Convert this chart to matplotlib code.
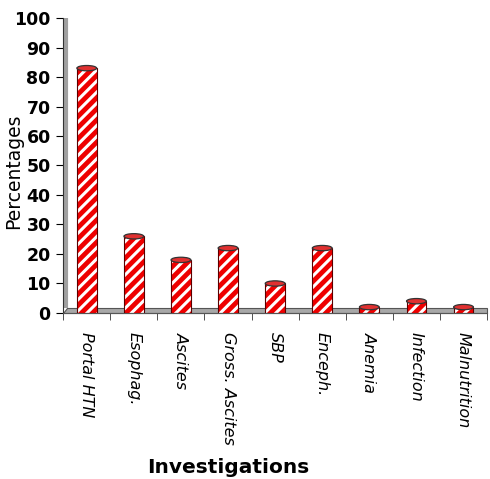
import matplotlib.pyplot as plt
import numpy as np
from matplotlib.patches import Ellipse, Polygon

# data
categories = ["Portal HTN", "Esophag.", "Ascites", "Gross. Ascites", "SBP",
              "Enceph.", "Anemia", "Infection", "Malnutrition"]
values = [83, 26, 18, 22, 10, 22, 2, 4, 2]

plt.rcParams['font.family'] = ['DejaVu Sans']
plt.rcParams['hatch.linewidth'] = 2.2

fig = plt.figure(figsize=(4.9, 4.79), dpi=100)
ax = fig.add_axes([0.129, 0.3466, 0.865, 0.6158])

x = np.arange(len(categories))
w = 0.42

# floor of the 3D box
floor = Polygon([[-0.5, 0], [8.5, 0], [8.5, 1.7], [-0.42, 1.7]],
                closed=True, facecolor='#a8a8a8', edgecolor='#555555', lw=0.8,
                zorder=1, clip_on=False)
ax.add_patch(floor)
# back wall shadow on the left
ax.plot([-0.45, -0.45], [1.7, 100.5], color='#a0a0a0', lw=3, zorder=1,
        solid_capstyle='butt')

# bars: red body with white diagonal stripes
ax.bar(x, values, width=w, color='#ee0000', hatch='///', edgecolor='white',
       linewidth=0, zorder=2)
ax.bar(x, values, width=w, fill=False, edgecolor='#5a0000', linewidth=0.8,
       zorder=3)
# cylinder tops
for xi, v in zip(x, values):
    ax.add_patch(Ellipse((xi, v), w, 1.8, facecolor='#e03030',
                         edgecolor='#333333', lw=0.9, zorder=4))

ax.set_xlim(-0.5, 8.5)
ax.set_ylim(0, 100)
ax.set_yticks(np.arange(0, 101, 10))
ax.set_yticklabels([str(t) for t in range(0, 101, 10)], fontsize=12.5,
                   fontweight='bold')
ax.set_xticks(np.arange(-0.5, 9, 1), minor=True)
ax.set_xticks(x)
ax.set_xticklabels(categories, rotation=270, style='italic', fontsize=11.5)
ax.tick_params(axis='x', which='major', length=0, pad=14)
ax.tick_params(axis='x', which='minor', length=5, color='#333333')
ax.tick_params(axis='y', length=5, pad=4)

for s in ['top', 'right']:
    ax.spines[s].set_visible(False)
ax.spines['bottom'].set_color('#555555')
ax.spines['left'].set_color('#333333')

ax.set_ylabel("Percentages", fontsize=13.5)
ax.yaxis.set_label_coords(-0.095, 0.48)
ax.set_xlabel("Investigations", fontsize=14.5, fontweight='bold')
ax.xaxis.set_label_coords(0.39, -0.49)

fig.savefig("out.png", dpi=100)
